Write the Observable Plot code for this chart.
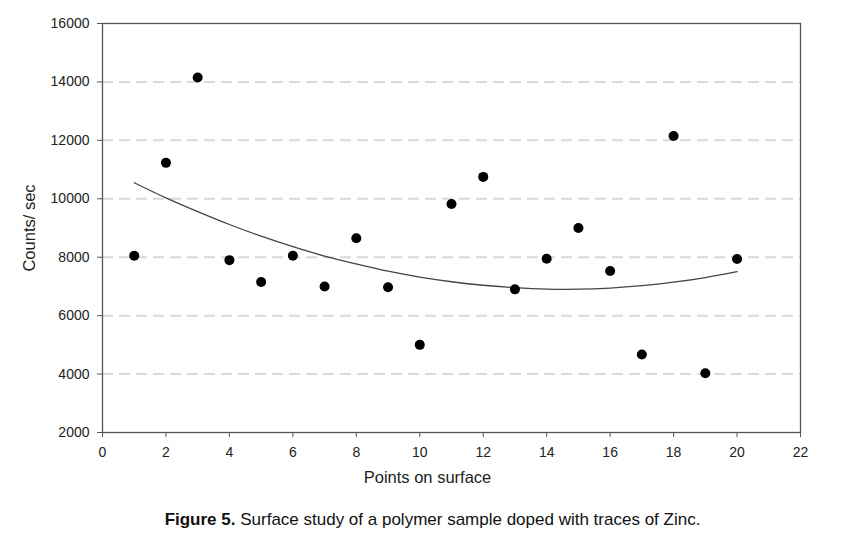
<!DOCTYPE html>
<html>
<head>
<meta charset="utf-8">
<script src="https://cdn.jsdelivr.net/npm/d3@7"></script>
<script src="https://cdn.jsdelivr.net/npm/@observablehq/plot@0.6"></script>
<style>
  body { margin: 0; background: #fff; font-family: "Liberation Sans", Arial, sans-serif; }
  #caption { width: 845px; text-align: center; font-size: 17px; line-height: 20px; margin-top: 10px; padding-left: 20px; box-sizing: border-box; color: #111; }
</style>
</head>
<body>
<div id="chart"></div>
<div id="caption"><b>Figure 5.</b> Surface study of a polymer sample doped with traces of Zinc.</div>
<script>
const points = [1,2,3,4,5,6,7,8,9,10,11,12,13,14,15,16,17,18,19,20];
const counts = [8050,11230,14150,7900,7150,8050,7000,8650,6970,5000,9820,10750,6900,7950,9000,7530,4670,12150,4030,7940];
const trend = [10550,10030,9560,9120,8720,8360,8040,7770,7520,7320,7160,7040,6960,6910,6905,6945,7025,7145,7305,7505];
const xTicks = [0,2,4,6,8,10,12,14,16,18,20,22];
const yTicks = [2000,4000,6000,8000,10000,12000,14000,16000];
const gridLines = [4000,6000,8000,10000,12000,14000];
const xLabel = "Points on surface";
const yLabel = "Counts/ sec";

const data = points.map((p, i) => ({x: p, y: counts[i]}));
const fit = points.map((p, i) => ({x: p, y: trend[i]}));

const chart = Plot.plot({
  width: 845,
  height: 500,
  marginLeft: 102,
  marginRight: 45,
  marginTop: 23,
  marginBottom: 68,
  style: {fontFamily: "'Liberation Sans', Arial, sans-serif", color: "#222", background: "#fff"},
  x: {domain: [0, 22]},
  y: {domain: [2000, 16000]},
  marks: [
    Plot.ruleY(gridLines, {stroke: "#d9d9d9", strokeWidth: 2, strokeDasharray: "11,6"}),
    Plot.frame({stroke: "#555", strokeWidth: 1.3}),
    Plot.axisX({ticks: xTicks, tickSize: 5, tickPadding: 10, fontSize: 14, label: null, stroke: "#555"}),
    Plot.axisY({ticks: yTicks, tickSize: 5, tickPadding: 8, fontSize: 14, label: null, stroke: "#555", tickFormat: d => String(d)}),
    Plot.line(fit, {x: "x", y: "y", curve: "natural", stroke: "#444", strokeWidth: 1.3}),
    Plot.dot(data, {x: "x", y: "y", r: 5, fill: "#000", stroke: "none"}),
    Plot.text([xLabel], {frameAnchor: "bottom", dy: 50, dx: -24, text: d => d, fontSize: 16.5, fill: "#222"}),
    Plot.text([yLabel], {frameAnchor: "left", textAnchor: "middle", dx: -73, rotate: -90, text: d => d, fontSize: 16.5, fill: "#222"})
  ]
});
document.getElementById("chart").appendChild(chart);
</script>
</body>
</html>
